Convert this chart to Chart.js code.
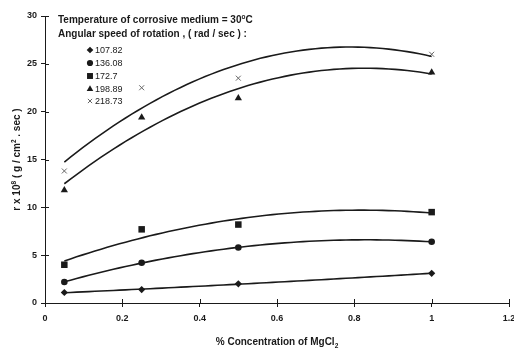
<!DOCTYPE html>
<html>
<head>
<meta charset="utf-8">
<script src="https://cdn.jsdelivr.net/npm/chart.js@4"></script>
<style>
  html, body { margin: 0; padding: 0; background: #fff; overflow: hidden; }
  #wrap { width: 514px; height: 349px; position: relative; }
</style>
</head>
<body>
<div id="wrap"><canvas id="rateChart"></canvas></div>
<script>
// concentration of MgCl2 (%)
const concentrations = [0.05, 0.25, 0.5, 1];
// angular speeds (rad / sec), one series each
const speedLabels = ["107.82", "136.08", "172.7", "198.89", "218.73"];
const rate107 = [1.1, 1.4, 2.0, 3.1];
const rate136 = [2.2, 4.2, 5.8, 6.4];
const rate172 = [4.0, 7.7, 8.2, 9.5];
const rate198 = [11.8, 19.4, 21.4, 24.1];
const rate218 = [13.8, 22.5, 23.5, 26.0];
const xTicks = [0, 0.2, 0.4, 0.6, 0.8, 1, 1.2];
const xTickLabels = ["0", "0.2", "0.4", "0.6", "0.8", "1", "1.2"];
const yTicks = [0, 5, 10, 15, 20, 25, 30];

const allRates = [rate107, rate136, rate172, rate198, rate218];
const markers = ["rectRot", "circle", "rect", "triangle", "crossRot"];
const markerSize = [3.6, 3.3, 4.6, 4.2, 3.5];
const legendSize = [3.3, 3.1, 4.2, 3.8, 3];
const markerColor = ["#1a1a1a", "#1a1a1a", "#1a1a1a", "#1a1a1a", "#666"];

// second order least squares fit, like the spreadsheet trend line
function polyFit2(xs, ys) {
    let s = [0, 0, 0, 0, 0], t = [0, 0, 0];
    for (let i = 0; i < xs.length; i++) {
        let p = 1;
        for (let k = 0; k < 5; k++) { s[k] += p; if (k < 3) t[k] += p * ys[i]; p *= xs[i]; }
    }
    const m = [[s[0], s[1], s[2], t[0]], [s[1], s[2], s[3], t[1]], [s[2], s[3], s[4], t[2]]];
    for (let c = 0; c < 3; c++) {
        for (let r = c + 1; r < 3; r++) {
            const f = m[r][c] / m[c][c];
            for (let k = c; k < 4; k++) m[r][k] -= f * m[c][k];
        }
    }
    const a = [0, 0, 0];
    for (let r = 2; r >= 0; r--) {
        let v = m[r][3];
        for (let k = r + 1; k < 3; k++) v -= m[r][k] * a[k];
        a[r] = v / m[r][r];
    }
    return a;
}

function trendPoints(ys) {
    const a = polyFit2(concentrations, ys);
    const pts = [];
    const x0 = concentrations[0], x1 = concentrations[concentrations.length - 1];
    for (let i = 0; i <= 60; i++) {
        const x = x0 + (x1 - x0) * i / 60;
        pts.push({ x: x, y: a[0] + a[1] * x + a[2] * x * x });
    }
    return pts;
}

const datasets = [];
allRates.forEach((ys, i) => {
    datasets.push({
        label: "fit " + speedLabels[i],
        data: trendPoints(ys),
        showLine: true,
        borderColor: "#1a1a1a",
        borderWidth: 1.6,
        pointRadius: 0,
        tension: 0
    });
});
allRates.forEach((ys, i) => {
    datasets.push({
        label: speedLabels[i],
        data: concentrations.map((x, j) => ({ x: x, y: ys[j] })),
        showLine: false,
        pointStyle: markers[i],
        pointRadius: markerSize[i],
        pointBackgroundColor: markerColor[i],
        pointBorderColor: markerColor[i],
        pointBorderWidth: i === 4 ? 1 : 0
    });
});

const FONT = "'Liberation Sans', Arial, sans-serif";

// pieces: [text, sup, sub]
function drawPieces(ctx, pieces, x, y, size) {
    let cx = x;
    pieces.forEach(p => {
        const small = p[1] || p[2];
        ctx.font = "bold " + (small ? size * 0.65 : size) + "px " + FONT;
        const dy = p[1] ? -size * 0.4 : (p[2] ? size * 0.25 : 0);
        ctx.fillText(p[0], cx, y + dy);
        cx += ctx.measureText(p[0]).width;
    });
    return cx - x;
}
function piecesWidth(ctx, pieces, size) {
    let w = 0;
    pieces.forEach(p => {
        ctx.font = "bold " + (p[1] || p[2] ? size * 0.65 : size) + "px " + FONT;
        w += ctx.measureText(p[0]).width;
    });
    return w;
}

const decorPlugin = {
    id: "decor",
    afterDraw(chart) {
        const ctx = chart.ctx;
        const xs = chart.scales.x, ys = chart.scales.y;
        ctx.save();
        // inner half of tick marks
        ctx.strokeStyle = "#1a1a1a";
        ctx.lineWidth = 1;
        yTicks.forEach(v => {
            const py = Math.round(ys.getPixelForValue(v)) + 0.5;
            ctx.beginPath(); ctx.moveTo(xs.left, py); ctx.lineTo(xs.left + 4, py); ctx.stroke();
        });
        xTicks.forEach(v => {
            const px = Math.round(xs.getPixelForValue(v)) + 0.5;
            ctx.beginPath(); ctx.moveTo(px, ys.bottom); ctx.lineTo(px, ys.bottom - 4); ctx.stroke();
        });

        ctx.fillStyle = "#1a1a1a";
        ctx.textBaseline = "alphabetic";
        ctx.textAlign = "left";
        // heading text
        drawPieces(ctx, [["Temperature of corrosive medium = 30"], ["o", true], ["C"]], 58, 23, 10);
        drawPieces(ctx, [["Angular speed of rotation , ( rad / sec ) :"]], 58, 37, 10);

        // legend
        const rows = [50, 63, 76, 89, 101];
        rows.forEach((ry, i) => {
            ctx.save();
            ctx.fillStyle = markerColor[i];
            ctx.strokeStyle = markerColor[i];
            Chart.helpers.drawPoint(ctx, {
                pointStyle: markers[i],
                radius: legendSize[i],
                rotation: 0,
                borderWidth: i === 4 ? 1 : 0
            }, 90, ry);
            ctx.restore();
            ctx.fillStyle = "#1a1a1a";
            ctx.font = "9px " + FONT;
            ctx.textBaseline = "middle";
            ctx.fillText(speedLabels[i], 95, ry + 0.5);
        });

        // x title
        ctx.textBaseline = "alphabetic";
        const xt = [["% Concentration of MgCl"], ["2", false, true]];
        const w = piecesWidth(ctx, xt, 10);
        drawPieces(ctx, xt, (xs.left + xs.right) / 2 - w / 2, 345, 10);

        // y title, rotated
        ctx.translate(20, (ys.top + ys.bottom) / 2);
        ctx.rotate(-Math.PI / 2);
        const yt = [["r x 10"], ["8", true], [" ( g / cm"], ["2", true], [" . sec )"]];
        const yw = piecesWidth(ctx, yt, 10);
        drawPieces(ctx, yt, -yw / 2, 0, 10);
        ctx.restore();
    }
};

new Chart(document.getElementById("rateChart"), {
    type: "scatter",
    data: { datasets: datasets },
    plugins: [decorPlugin],
    options: {
        responsive: true,
        maintainAspectRatio: false,
        animation: false,
        layout: { padding: { top: 16, right: 5, left: 0, bottom: 0 } },
        plugins: { legend: { display: false }, tooltip: { enabled: false } },
        scales: {
            x: {
                type: "linear",
                min: 0, max: 1.2,
                afterBuildTicks: s => { s.ticks = xTicks.map(v => ({ value: v })); },
                afterFit: s => { s.height = 46; s.paddingRight = 0; s.paddingLeft = 0; },
                grid: { drawOnChartArea: false, tickLength: 4, color: "#1a1a1a", tickColor: "#1a1a1a" },
                border: { color: "#1a1a1a", width: 1 },
                ticks: {
                    color: "#1a1a1a", padding: 6, maxRotation: 0,
                    font: { family: FONT, size: 9, weight: "bold" },
                    callback: (v, i) => xTickLabels[i]
                }
            },
            y: {
                min: 0, max: 30,
                afterBuildTicks: s => { s.ticks = yTicks.map(v => ({ value: v })); },
                afterFit: s => { s.width = 45; s.paddingTop = 0; },
                grid: { drawOnChartArea: false, tickLength: 4, color: "#1a1a1a", tickColor: "#1a1a1a" },
                border: { color: "#1a1a1a", width: 1 },
                ticks: { color: "#1a1a1a", padding: 4, font: { family: FONT, size: 9, weight: "bold" } }
            }
        }
    }
});
</script>
</body>
</html>
